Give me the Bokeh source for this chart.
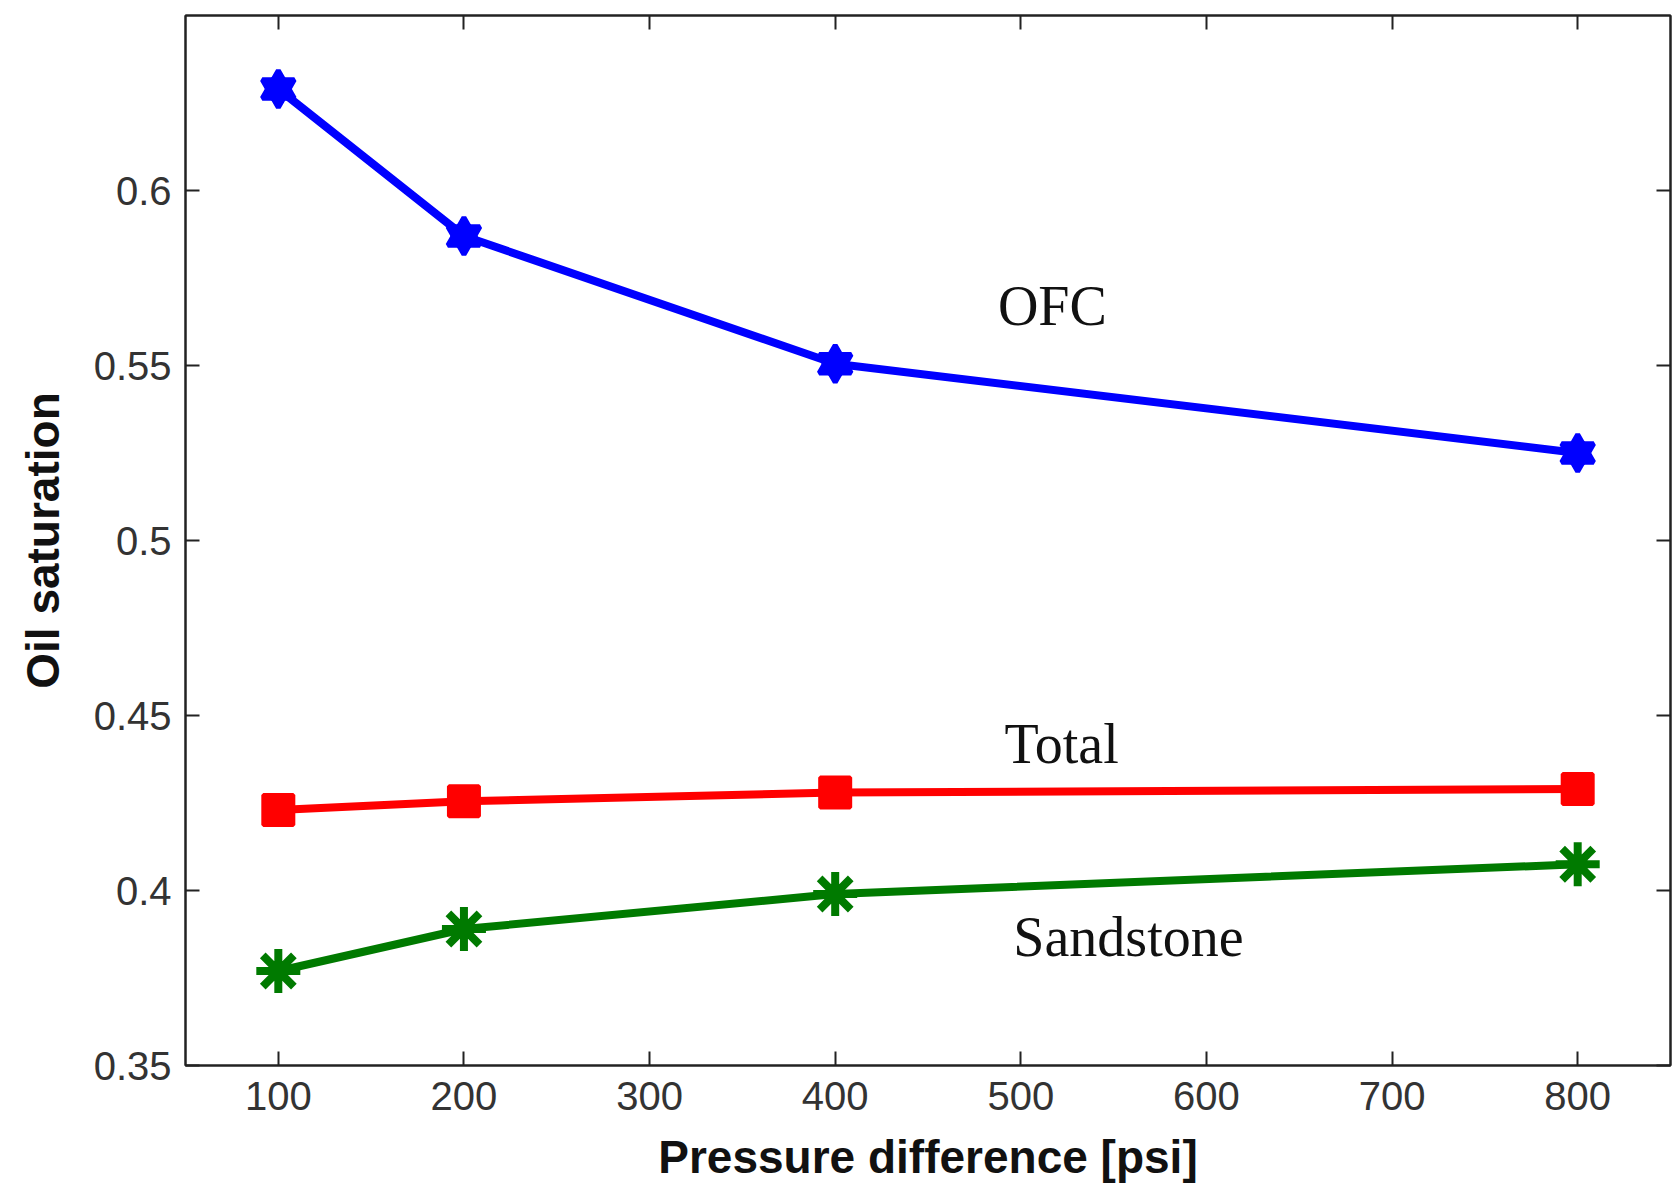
from bokeh.plotting import figure
from bokeh.models import LinearAxis, FixedTicker, Range1d
from bokeh.core.properties import value
from bokeh.embed import file_html
from bokeh.resources import INLINE

pressure = [100, 200, 400, 800]
ofc = [0.629, 0.587, 0.5505, 0.525]
total = [0.423, 0.4255, 0.428, 0.429]
sandstone = [0.377, 0.389, 0.399, 0.4075]

x_ticks = [100, 200, 300, 400, 500, 600, 700, 800]
y_ticks = [0.35, 0.4, 0.45, 0.5, 0.55, 0.6]
y_tick_labels = {0.35: "0.35", 0.4: "0.4", 0.45: "0.45", 0.5: "0.5", 0.55: "0.55", 0.6: "0.6"}

ann_text = ["OFC", "Total", "Sandstone"]
ann_x = [517, 522, 558]
ann_y = [0.567, 0.442, 0.3866]

p = figure(width=1675, height=1193, output_backend="svg", toolbar_location=None,
           x_range=Range1d(50, 850), y_range=Range1d(0.35, 0.65),
           min_border_left=185, min_border_right=5, min_border_top=15, min_border_bottom=128)
p.grid.visible = False
p.outline_line_color = "#222222"
p.outline_line_width = 2
p.background_fill_color = "white"
p.border_fill_color = "white"

def style(ax, labels=True):
    ax.axis_line_color = "#222222"
    ax.axis_line_width = 2
    ax.major_tick_in = 14
    ax.major_tick_out = 0
    ax.minor_tick_line_color = None
    ax.major_tick_line_color = "#222222"
    ax.major_tick_line_width = 2
    if labels:
        ax.major_label_text_font = "Liberation Sans"
        ax.major_label_text_font_size = "40px"
        ax.major_label_text_color = "#333333"
    else:
        ax.major_label_text_font_size = "1px"
        ax.major_label_text_alpha = 0
        ax.major_label_standoff = 0

xa = p.xaxis[0]
xa.ticker = FixedTicker(ticks=x_ticks)
style(xa)
xa.major_label_standoff = 16
xa.axis_label = "Pressure difference [psi]"
xa.axis_label_text_font = "Liberation Sans"
xa.axis_label_text_font_style = "bold"
xa.axis_label_text_font_size = "46px"
xa.axis_label_text_color = "#111111"
xa.axis_label_standoff = 18

ya = p.yaxis[0]
ya.ticker = FixedTicker(ticks=y_ticks)
ya.major_label_overrides = y_tick_labels
style(ya)
ya.major_label_standoff = 14
ya.axis_label = "Oil saturation"
ya.axis_label_text_font = "Liberation Sans"
ya.axis_label_text_font_style = "bold"
ya.axis_label_text_font_size = "46px"
ya.axis_label_text_color = "#111111"
ya.axis_label_standoff = 22

ra = LinearAxis(ticker=FixedTicker(ticks=y_ticks))
style(ra, labels=False)
p.add_layout(ra, "right")
ta = LinearAxis(ticker=FixedTicker(ticks=x_ticks))
style(ta, labels=False)
p.add_layout(ta, "above")

# OFC
p.line(pressure, ofc, line_color="#0000ff", line_width=8)
p.scatter(pressure, ofc, marker="triangle", size=32, fill_color="#0000ff", line_color="#0000ff", line_width=5)
p.scatter(pressure, ofc, marker="inverted_triangle", size=32, fill_color="#0000ff", line_color="#0000ff", line_width=5)
p.scatter(pressure, ofc, marker="circle", size=26, fill_color="#0000ff", line_color="#0000ff")
# Total
p.line(pressure, total, line_color="#ff0000", line_width=8)
p.scatter(pressure, total, marker="square", size=30, fill_color="#ff0000", line_color="#ff0000", line_width=4)
# Sandstone
p.line(pressure, sandstone, line_color="#007a00", line_width=8)
p.scatter(pressure, sandstone, marker="asterisk", size=44, line_color="#007a00", line_width=8)

p.text(ann_x, ann_y, text=ann_text, text_font=value("Liberation Serif"), text_font_size="56px",
       text_align="center", text_baseline="middle", text_color="#111111")

open("out.html", "w").write(file_html(p, INLINE))
